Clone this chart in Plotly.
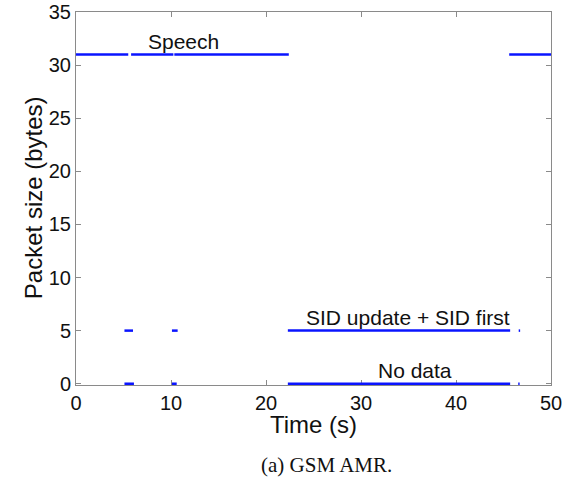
import plotly.graph_objects as go

# Data: time segments (s) during which packets of a given size were sent
speech_size = 31
speech_start = [0.0, 5.8, 10.35, 45.6]
speech_end = [5.5, 10.25, 22.4, 50.0]

sid_size = 5
sid_start = [5.1, 10.1, 22.3, 46.6]
sid_end = [6.0, 10.7, 45.7, 46.75]

nodata_size = 0
nodata_start = [5.1, 10.1, 22.3, 46.55]
nodata_end = [6.1, 10.6, 45.7, 46.7]

x_ticks = [0, 10, 20, 30, 40, 50]
y_ticks = [0, 5, 10, 15, 20, 25, 30, 35]


def segments(starts, ends, level):
    xs, ys = [], []
    for s, e in zip(starts, ends):
        xs += [s, e, None]
        ys += [level, level, None]
    return xs, ys


BLUE = "#0a14ff"
fig = go.Figure()
for st, en, lv in [(speech_start, speech_end, speech_size),
                   (sid_start, sid_end, sid_size),
                   (nodata_start, nodata_end, nodata_size)]:
    xs, ys = segments(st, en, lv)
    fig.add_trace(go.Scatter(x=xs, y=ys, mode="lines", cliponaxis=False,
                             line=dict(color=BLUE, width=2.5),
                             connectgaps=False, showlegend=False,
                             hoverinfo="skip"))

font = "Liberation Sans, Arial, Helvetica, sans-serif"
TXT = "#111111"
axis_common = dict(showgrid=False, zeroline=False, showline=True,
                   linecolor="#8a8a8a", linewidth=1, mirror="ticks",
                   ticks="inside", ticklen=5, tickcolor="#8a8a8a",
                   tickfont=dict(family=font, size=20, color=TXT),
                   layer="below traces", automargin=False)

label_font = dict(family=font, size=21, color=TXT)

fig.update_layout(
    width=564, height=478,
    margin=dict(l=76, r=13, t=12, b=93),
    paper_bgcolor="white", plot_bgcolor="white",
    xaxis=dict(range=[0, 50], tickvals=x_ticks, **axis_common),
    yaxis=dict(range=[-0.12, 35], tickvals=y_ticks, **axis_common),
    annotations=[
        dict(x=11.35, y=speech_size, xref="x", yref="y", text="Speech",
             showarrow=False, xanchor="center", yanchor="middle", yshift=13,
             font=label_font),
        dict(x=34.9, y=sid_size, xref="x", yref="y",
             text="SID update + SID first", showarrow=False,
             xanchor="center", yanchor="middle", yshift=13, font=label_font),
        dict(x=35.7, y=nodata_size, xref="x", yref="y", text="No data",
             showarrow=False, xanchor="center", yanchor="middle", yshift=13,
             font=label_font),
        # axis titles
        dict(x=0.5, y=-0.107, xref="paper", yref="paper", text="Time (s)",
             showarrow=False, xanchor="center", yanchor="middle",
             font=dict(family=font, size=24, color=TXT)),
        dict(x=-0.0905, y=0.501, xref="paper", yref="paper",
             text="Packet size (bytes)", textangle=-90, showarrow=False,
             xanchor="center", yanchor="middle",
             font=dict(family=font, size=24, color=TXT)),
        # caption
        dict(x=0.528, y=-0.214, xref="paper", yref="paper", text="(a) GSM AMR.",
             showarrow=False, xanchor="center", yanchor="middle",
             font=dict(family="Liberation Serif, Times New Roman, serif",
                       size=21, color=TXT)),
    ],
)

fig.write_html("out.html",
               config={"displayModeBar": False},
               post_script="document.body.style.margin='0';"
                           "document.body.style.overflow='hidden';")
